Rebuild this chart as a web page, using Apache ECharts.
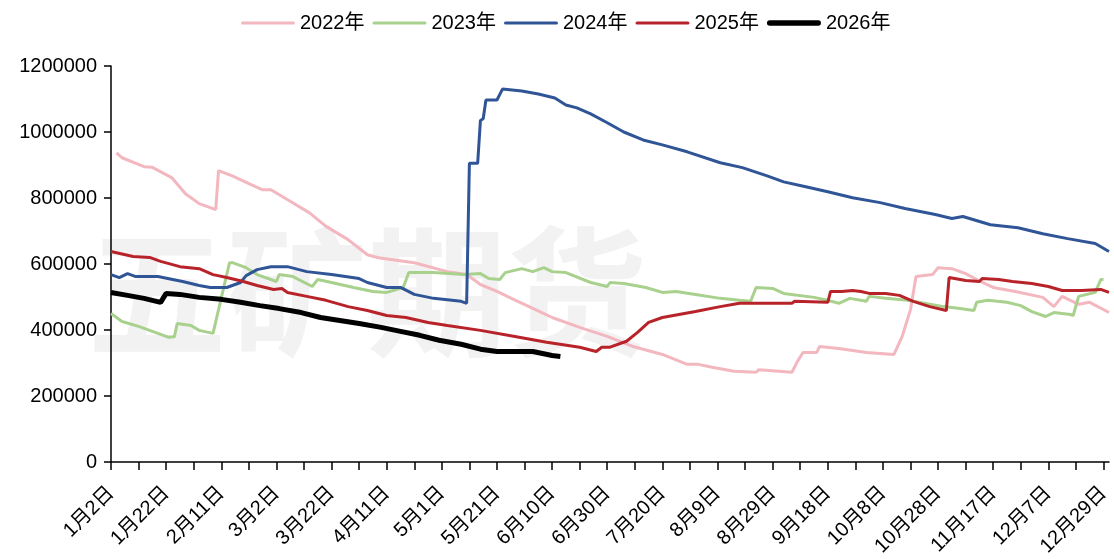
<!DOCTYPE html>
<html>
<head>
<meta charset="utf-8">
<script src="https://cdn.jsdelivr.net/npm/echarts@6/dist/echarts.min.js"></script>
<style>
html,body{margin:0;padding:0;background:#fff;}
#chart{width:1114px;height:559px;}
</style>
</head>
<body>
<div id="chart"></div>
<script>
// Category axis: daily dates (leap-year calendar), two late-December days absent
const monthLengths = [31,29,31,30,31,30,31,31,30,31,30,31];
const missingDays = ['12月24日','12月25日'];
const categories = [];
for (let m = 0; m < 12; m++) {
  for (let d = 1; d <= monthLengths[m]; d++) {
    if (m === 0 && d === 1) continue;
    const name = (m + 1) + '月' + d + '日';
    if (missingDays.indexOf(name) >= 0) continue;
    categories.push(name);
  }
}

const seriesNames = ['2022年','2023年','2024年','2025年','2026年'];

// [category index, value]
const data2022 = [
  [2,937000],[4,922000],[12,895000],[15,893000],[22,862000],[27,813000],[32,783000],[38,765000],
  [39,883000],[44,867000],[51,840000],[55,825000],[58,825000],[65,790000],[72,755000],[78,714000],
  [86,674000],[93,628000],[97,619000],[110,604000],[122,577000],[129,568000],[134,538000],[140,517000],
  [146,493000],[154,462000],[160,438000],[170,408000],[180,381000],[189,351000],[200,326000],[209,296000],
  [213,296000],[218,287000],[226,275000],[234,272000],[235,280000],[247,272000],[249,305000],[251,332000],
  [256,332000],[257,350000],[264,344000],[274,332000],[284,326000],[287,381000],[290,462000],[292,562000],
  [298,568000],[300,589000],[305,586000],[310,571000],[314,553000],[320,529000],[328,517000],[338,499000],
  [342,471000],[345,502000],[351,478000],[355,484000],[362,453000]
];
const data2023 = [
  [0,450000],[4,426000],[10,411000],[15,396000],[21,378000],[23,380000],[24,420000],[29,414000],
  [32,399000],[37,390000],[43,604000],[44,604000],[49,589000],[53,568000],[60,547000],[61,568000],
  [66,562000],[73,532000],[75,553000],[80,544000],[88,529000],[95,517000],[100,514000],[106,529000],
  [108,574000],[117,574000],[128,568000],[134,571000],[137,556000],[141,553000],[143,574000],[149,586000],
  [153,577000],[157,589000],[160,577000],[165,574000],[174,544000],[180,532000],[181,544000],[186,541000],
  [194,529000],[200,514000],[205,517000],[212,508000],[221,496000],[228,490000],[232,487000],[234,529000],
  [240,526000],[244,511000],[255,499000],[260,490000],[264,481000],[268,496000],[274,487000],[275,502000],
  [281,496000],[289,490000],[293,484000],[302,471000],[308,465000],[313,459000],[314,484000],[318,490000],
  [325,484000],[330,474000],[334,456000],[339,441000],[342,453000],[348,447000],[349,444000],[351,502000],
  [354,508000],[357,514000],[359,553000],[360,553000]
];
const data2024 = [
  [0,568000],[3,559000],[6,571000],[9,562000],[17,562000],[26,547000],[32,535000],[36,529000],
  [42,529000],[47,544000],[49,565000],[53,583000],[58,592000],[64,592000],[71,577000],[80,568000],
  [90,556000],[93,544000],[100,529000],[105,529000],[110,508000],[117,496000],[127,487000],[129,481000],
  [130,905000],[133,905000],[134,1035000],[135,1040000],[136,1097000],[140,1097000],[142,1130000],[149,1124000],
  [155,1115000],[161,1103000],[165,1082000],[169,1073000],[174,1055000],[180,1028000],[186,1000000],[193,976000],
  [200,961000],[209,940000],[221,907000],[229,892000],[238,867000],[244,849000],[252,834000],[260,819000],
  [269,801000],[279,786000],[288,768000],[299,750000],[305,738000],[309,744000],[319,719000],[329,710000],
  [338,692000],[347,677000],[357,662000],[362,638000]
];
const data2025 = [
  [0,638000],[8,623000],[14,620000],[18,608000],[25,592000],[32,586000],[37,568000],[42,559000],
  [48,547000],[53,535000],[59,523000],[62,526000],[64,514000],[71,502000],[78,490000],[86,471000],
  [93,459000],[100,444000],[107,438000],[115,423000],[122,414000],[134,399000],[146,381000],[158,363000],
  [170,348000],[176,335000],[178,348000],[181,348000],[187,366000],[191,393000],[195,423000],[200,438000],
  [206,447000],[212,456000],[221,471000],[228,481000],[238,481000],[247,481000],[248,487000],[260,484000],
  [261,517000],[265,517000],[269,520000],[272,517000],[275,511000],[281,511000],[286,505000],[291,487000],
  [297,471000],[303,459000],[304,559000],[310,550000],[315,547000],[316,556000],[322,553000],[327,547000],
  [334,541000],[340,532000],[345,520000],[352,520000],[359,523000],[360,520000],[362,514000]
];
const data2026 = [
  [0,514000],[6,505000],[12,496000],[18,484000],[20,511000],[25,508000],[32,499000],[40,493000],
  [47,484000],[54,474000],[61,465000],[69,453000],[76,438000],[83,429000],[90,420000],[98,408000],
  [105,396000],[112,384000],[119,369000],[127,357000],[134,342000],[140,335000],[146,335000],[153,335000],
  [160,323000],[163,320000]
];

const seriesData = [data2022, data2023, data2024, data2025, data2026];
const seriesColors = ['#F3B7BF','#A9D18E','#2F5597','#B8232A','#000000'];
const seriesWidths = [3,3,3,3,5];

const FONT = '"Liberation Sans","Noto Sans CJK SC",sans-serif';
const thinIcon = 'path://M3,0 L97,0 A3,3 0 0 1 97,6 L3,6 A3,3 0 0 1 3,0 Z';
const thickIcon = 'path://M5,0 L95,0 A5,5 0 0 1 95,10 L5,10 A5,5 0 0 1 5,0 Z';

const chart = echarts.init(document.getElementById('chart'), null, {renderer:'canvas'});
chart.setOption({
  animation: false,
  backgroundColor: '#ffffff',
  textStyle: {fontFamily: FONT},
  graphic: [{
    type: 'text',
    left: 87,
    top: 222,
    z: -10,
    silent: true,
    style: {
      text: '五矿期货',
      font: 'bold 140px "Noto Sans CJK SC"',
      fill: '#f2f2f2'
    }
  }],
  legend: {
    top: 8,
    left: 236,
    itemWidth: 54,
    itemHeight: 14,
    itemGap: 8,
    textStyle: {fontSize: 20, color: '#000', fontFamily: FONT},
    data: seriesNames.map(function (n, i) {
      return {name: n, icon: i === 4 ? thickIcon : thinIcon};
    })
  },
  grid: {left: 111, right: 5, top: 66, bottom: 96, containLabel: false},
  xAxis: {
    type: 'category',
    data: categories,
    boundaryGap: false,
    axisLine: {lineStyle: {color: '#000', width: 1.5}},
    axisTick: {interval: 9, length: 8, lineStyle: {color: '#000', width: 1.5}},
    axisLabel: {interval: 19, rotate: 45, margin: 28, fontSize: 20, color: '#000', fontFamily: FONT},
    splitLine: {show: false}
  },
  yAxis: {
    type: 'value',
    min: 0,
    max: 1200000,
    interval: 200000,
    axisLine: {show: true, lineStyle: {color: '#000', width: 1.5}},
    axisTick: {show: true, length: 7, lineStyle: {color: '#000', width: 1.5}},
    axisLabel: {fontSize: 20, color: '#000', margin: 14, fontFamily: FONT,
      formatter: function (v) { return String(v); }},
    splitLine: {show: false}
  },
  series: seriesNames.map(function (name, i) {
    return {
      name: name,
      type: 'line',
      data: seriesData[i],
      symbol: 'none',
      smooth: false,
      z: 2 + i,
      lineStyle: {color: seriesColors[i], width: seriesWidths[i]},
      itemStyle: {color: seriesColors[i]}
    };
  })
});
</script>
</body>
</html>
